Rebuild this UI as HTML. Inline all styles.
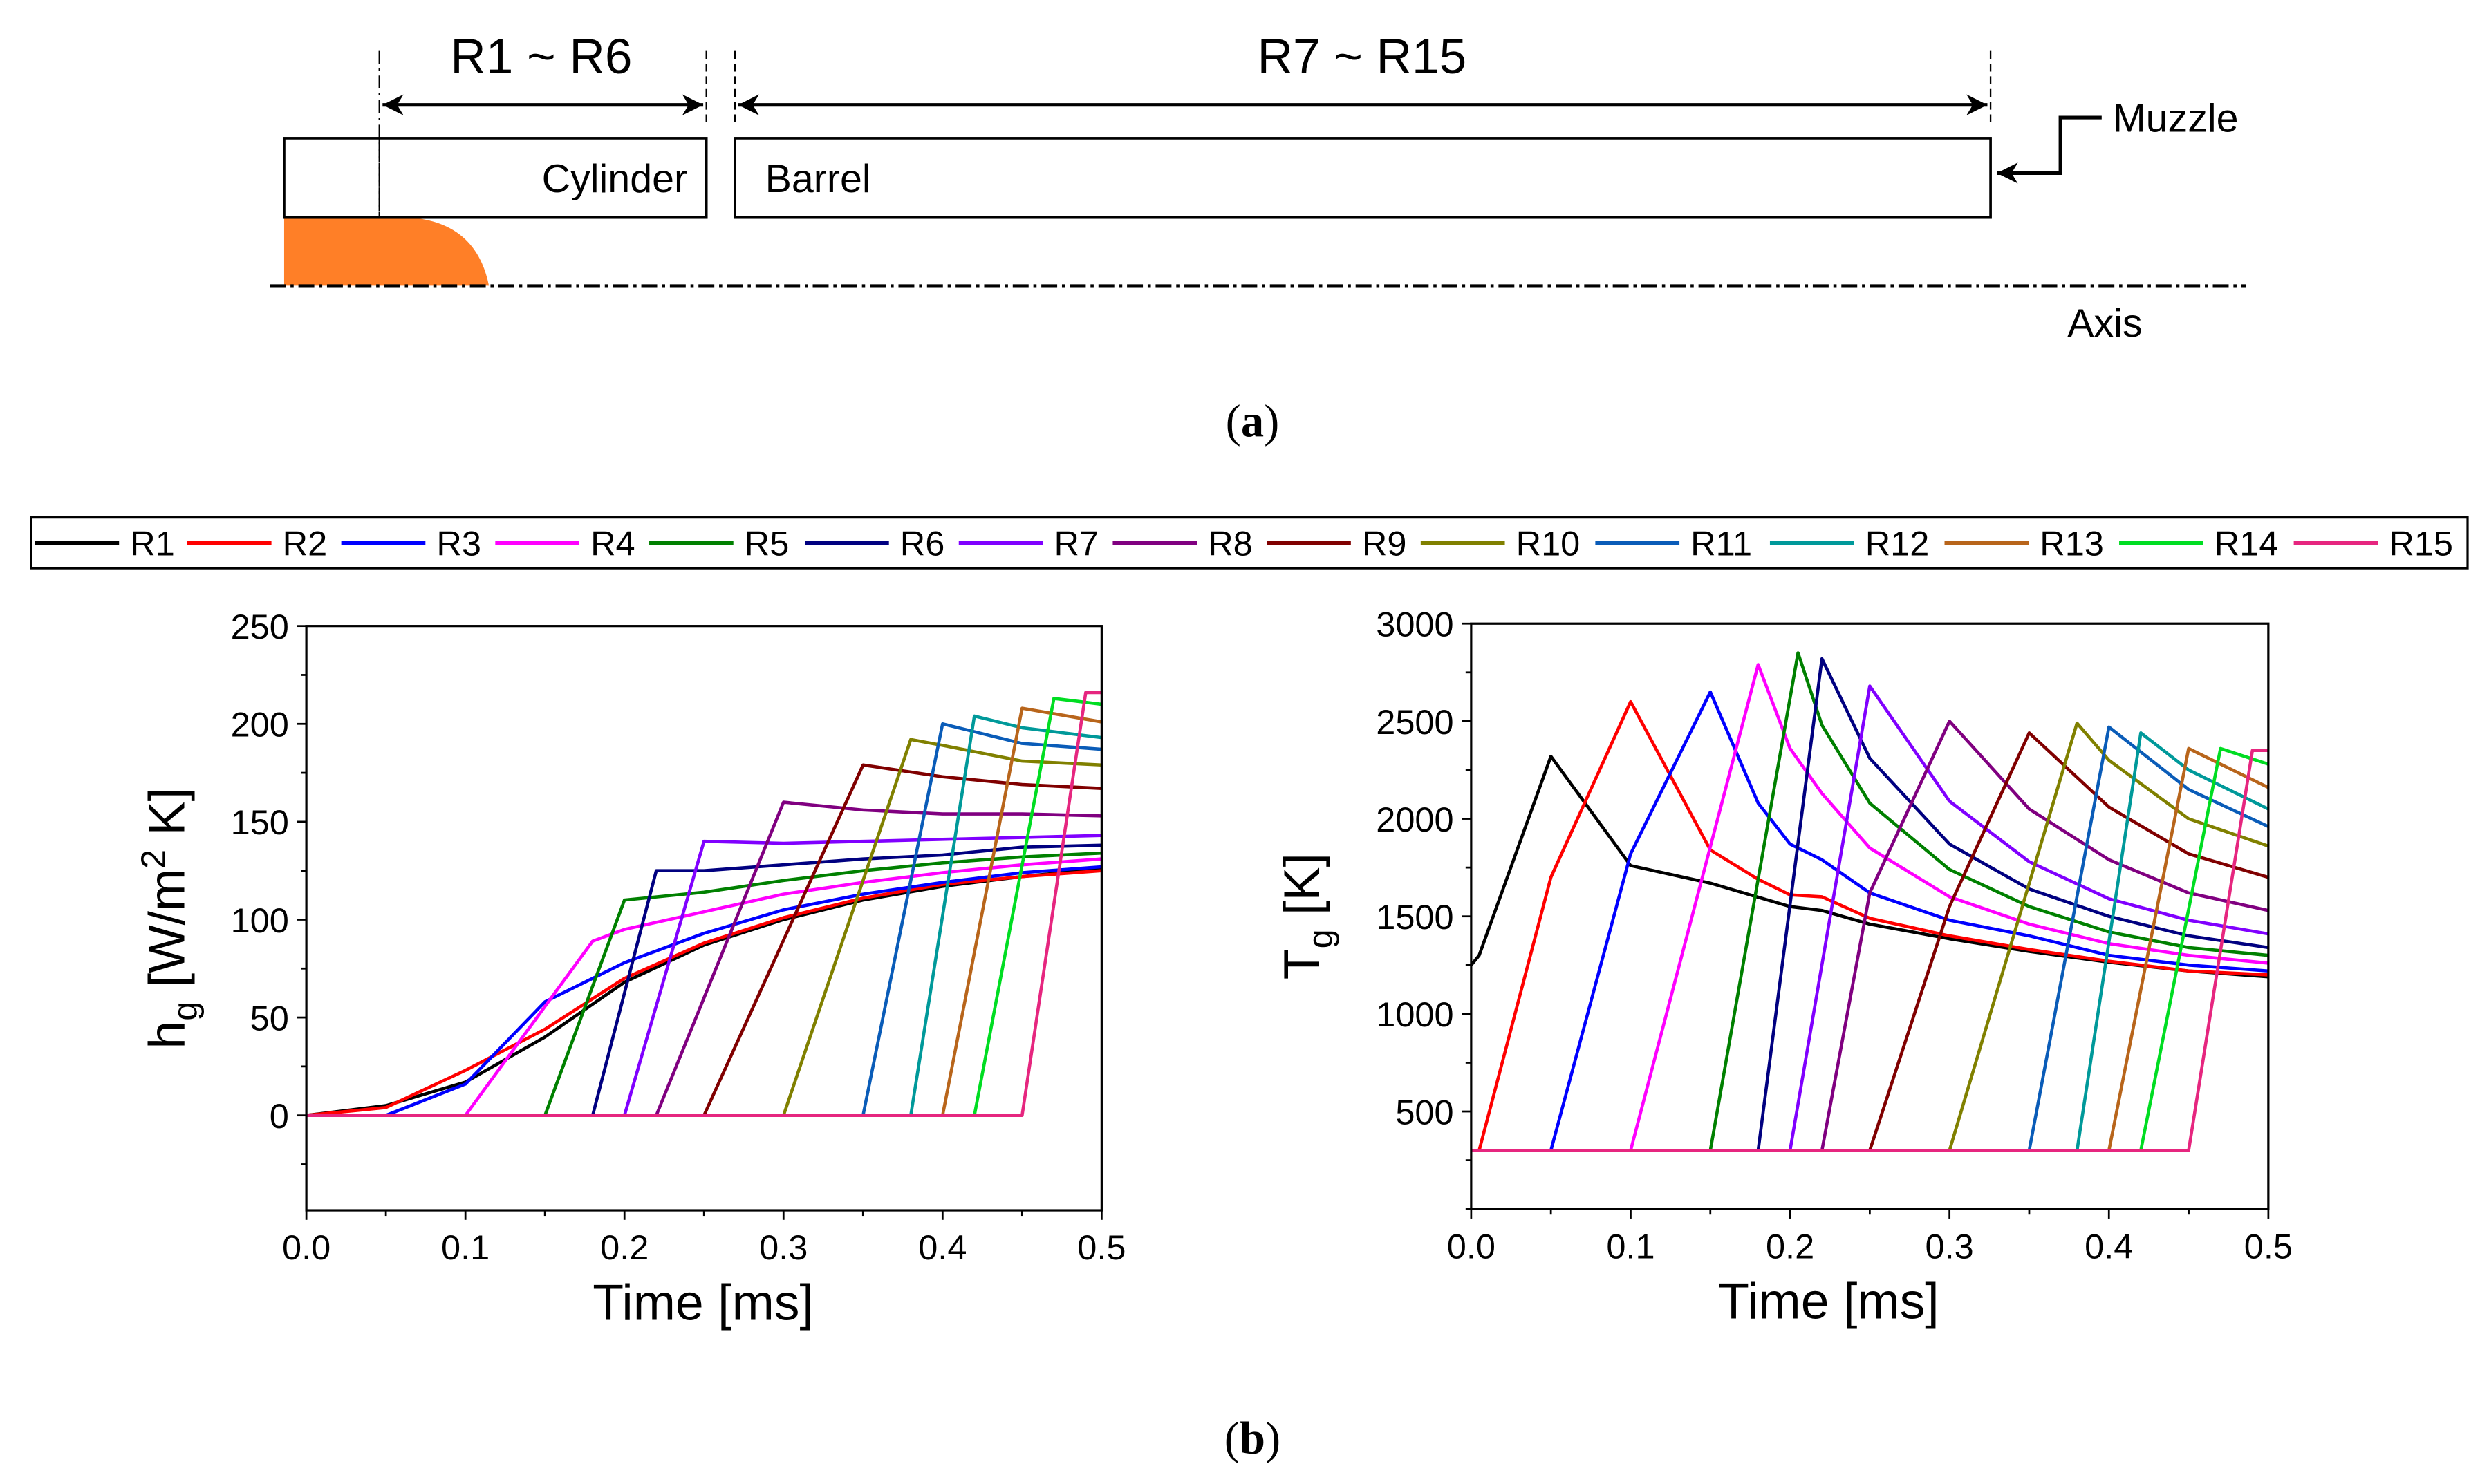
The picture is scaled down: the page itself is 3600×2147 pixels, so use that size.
<!DOCTYPE html>
<html><head><meta charset="utf-8"><style>
html,body{margin:0;padding:0;background:#fff}
svg{display:block}
text{font-family:"Liberation Sans",Arial,sans-serif;fill:#000}
</style></head><body>
<svg id="fig" width="3600" height="2147" viewBox="0 0 1568 935" xmlns="http://www.w3.org/2000/svg">
<defs>
<marker id="ah" viewBox="0 0 10 10" refX="10" refY="5" markerWidth="6" markerHeight="7" orient="auto-start-reverse"><path d="M0,0 L10,5 L0,10 L3,5 z" fill="#000"/></marker>
</defs>
<g>
  <line x1="239" y1="32" x2="239" y2="137" stroke="#000" stroke-width="1" stroke-dasharray="8,3,1.5,3"/>
  <line x1="445" y1="32" x2="445" y2="80" stroke="#000" stroke-width="1" stroke-dasharray="5,3"/>
  <line x1="463" y1="32" x2="463" y2="80" stroke="#000" stroke-width="1" stroke-dasharray="5,3"/>
  <line x1="1254" y1="32" x2="1254" y2="80" stroke="#000" stroke-width="1" stroke-dasharray="5,3"/>
  <line x1="241" y1="66" x2="443" y2="66" stroke="#000" stroke-width="2.2" marker-start="url(#ah)" marker-end="url(#ah)"/>
  <line x1="465" y1="66" x2="1252" y2="66" stroke="#000" stroke-width="2.2" marker-start="url(#ah)" marker-end="url(#ah)"/>
  <text x="341" y="46" font-size="31" text-anchor="middle">R1 ~ R6</text>
  <text x="858" y="46" font-size="31" text-anchor="middle">R7 ~ R15</text>
  <path d="M179,137 L258,137 Q300,140 308,180 L179,180 z" fill="#ff7f27"/>
  <rect x="179" y="87" width="266" height="50" fill="none" stroke="#000" stroke-width="1.6"/>
  <text x="433" y="121" font-size="25" text-anchor="end">Cylinder</text>
  <rect x="463" y="87" width="791" height="50" fill="none" stroke="#000" stroke-width="1.6"/>
  <text x="482" y="121" font-size="25">Barrel</text>
  <line x1="239" y1="87" x2="239" y2="137" stroke="#000" stroke-width="1" stroke-dasharray="8,3,1.5,3"/>
  <line x1="170" y1="180" x2="1415" y2="180" stroke="#000" stroke-width="1.8" stroke-dasharray="10,3,2,3"/>
  <text x="1326" y="212" font-size="25" text-anchor="middle">Axis</text>
  <polyline points="1324,74 1298,74 1298,109 1258,109" fill="none" stroke="#000" stroke-width="2.2" marker-end="url(#ah)"/>
  <text x="1331" y="83" font-size="25">Muzzle</text>
  <text x="789" y="275" font-size="29" text-anchor="middle" style="font-family:'Liberation Serif',serif">(<tspan font-weight="bold">a</tspan>)</text>
</g>
<g id="legend">
  <rect x="19.5" y="326" width="1535" height="32" fill="#fff" stroke="#000" stroke-width="1.4"/>
</g>
<g id="plotL"></g>
<g id="plotR"></g>
<text x="789" y="916" font-size="29" text-anchor="middle" style="font-family:'Liberation Serif',serif">(<tspan font-weight="bold">b</tspan>)</text>
</svg>
<script>
const seriesNames = ["R1","R2","R3","R4","R5","R6","R7","R8","R9","R10","R11","R12","R13","R14","R15"];
const seriesColors = ["#000000","#ff0000","#0000ff","#ff00ff","#008000","#000080","#8000ff","#800080","#800000","#808000","#0a5cb8","#00999a","#b8651b","#00dd22","#e6267f"];
const xTicks = [0,0.1,0.2,0.3,0.4,0.5];
const xTickLabels = ["0.0","0.1","0.2","0.3","0.4","0.5"];
const hgTicks = [0,50,100,150,200,250];
const tgTicks = [500,1000,1500,2000,2500,3000];
// h_g series: [time, value]
const hgR1 = [[0,0],[0.05,5],[0.1,17],[0.15,40],[0.2,68],[0.25,87],[0.3,100],[0.35,110],[0.4,117],[0.45,122],[0.5,126]];
const hgR2 = [[0,0],[0.05,4],[0.1,23],[0.15,44],[0.2,70],[0.25,88],[0.3,101],[0.35,111],[0.4,118],[0.45,122],[0.5,125]];
const hgR3 = [[0,0],[0.05,0],[0.1,16],[0.15,58],[0.2,78],[0.25,93],[0.3,105],[0.35,113],[0.4,119],[0.45,124],[0.5,127]];
const hgR4 = [[0,0],[0.1,0],[0.18,89],[0.2,95],[0.25,104],[0.3,113],[0.35,119],[0.4,124],[0.45,128],[0.5,131]];
const hgR5 = [[0,0],[0.15,0],[0.2,110],[0.25,114],[0.3,120],[0.35,125],[0.4,129],[0.45,132],[0.5,134]];
const hgR6 = [[0,0],[0.18,0],[0.22,125],[0.25,125],[0.3,128],[0.35,131],[0.4,133],[0.45,137],[0.5,138]];
const hgR7 = [[0,0],[0.2,0],[0.25,140],[0.3,139],[0.35,140],[0.4,141],[0.45,142],[0.5,143]];
const hgR8 = [[0,0],[0.22,0],[0.3,160],[0.35,156],[0.4,154],[0.45,154],[0.5,153]];
const hgR9 = [[0,0],[0.25,0],[0.35,179],[0.4,173],[0.45,169],[0.5,167]];
const hgR10 = [[0,0],[0.3,0],[0.38,192],[0.4,189],[0.45,181],[0.5,179]];
const hgR11 = [[0,0],[0.35,0],[0.4,200],[0.45,190],[0.5,187]];
const hgR12 = [[0,0],[0.38,0],[0.42,204],[0.45,198],[0.5,193]];
const hgR13 = [[0,0],[0.4,0],[0.45,208],[0.5,201]];
const hgR14 = [[0,0],[0.42,0],[0.47,213],[0.5,210]];
const hgR15 = [[0,0],[0.45,0],[0.49,216],[0.5,216]];
// T_g series
const tgR1 = [[0,1250],[0.005,1300],[0.05,2320],[0.1,1760],[0.15,1670],[0.2,1550],[0.22,1530],[0.25,1460],[0.3,1385],[0.35,1320],[0.4,1265],[0.45,1220],[0.5,1190]];
const tgR2 = [[0,300],[0.005,300],[0.05,1700],[0.1,2600],[0.15,1840],[0.18,1690],[0.2,1610],[0.22,1600],[0.25,1490],[0.3,1400],[0.35,1330],[0.4,1270],[0.45,1220],[0.5,1200]];
const tgR3 = [[0,300],[0.05,300],[0.1,1820],[0.15,2650],[0.18,2080],[0.2,1870],[0.22,1790],[0.25,1620],[0.3,1480],[0.35,1400],[0.4,1300],[0.45,1250],[0.5,1220]];
const tgR4 = [[0,300],[0.1,300],[0.18,2790],[0.2,2360],[0.22,2130],[0.25,1850],[0.3,1600],[0.35,1460],[0.4,1360],[0.45,1300],[0.5,1260]];
const tgR5 = [[0,300],[0.15,300],[0.205,2850],[0.22,2480],[0.25,2080],[0.3,1740],[0.35,1550],[0.4,1420],[0.45,1340],[0.5,1300]];
const tgR6 = [[0,300],[0.18,300],[0.22,2820],[0.25,2310],[0.3,1870],[0.35,1640],[0.4,1500],[0.45,1400],[0.5,1340]];
const tgR7 = [[0,300],[0.2,300],[0.25,2680],[0.3,2090],[0.35,1780],[0.4,1590],[0.45,1480],[0.5,1410]];
const tgR8 = [[0,300],[0.22,300],[0.25,1620],[0.3,2500],[0.35,2050],[0.4,1790],[0.45,1620],[0.5,1530]];
const tgR9 = [[0,300],[0.25,300],[0.3,1550],[0.35,2440],[0.4,2060],[0.45,1820],[0.5,1700]];
const tgR10 = [[0,300],[0.3,300],[0.38,2490],[0.4,2300],[0.45,2000],[0.5,1860]];
const tgR11 = [[0,300],[0.35,300],[0.4,2470],[0.45,2150],[0.5,1960]];
const tgR12 = [[0,300],[0.38,300],[0.42,2440],[0.45,2250],[0.5,2050]];
const tgR13 = [[0,300],[0.4,300],[0.45,2360],[0.5,2160]];
const tgR14 = [[0,300],[0.42,300],[0.47,2360],[0.5,2280]];
const tgR15 = [[0,300],[0.45,300],[0.49,2350],[0.5,2350]];
const hgSeries = [hgR1,hgR2,hgR3,hgR4,hgR5,hgR6,hgR7,hgR8,hgR9,hgR10,hgR11,hgR12,hgR13,hgR14,hgR15];
const tgSeries = [tgR1,tgR2,tgR3,tgR4,tgR5,tgR6,tgR7,tgR8,tgR9,tgR10,tgR11,tgR12,tgR13,tgR14,tgR15];

const NS = "http://www.w3.org/2000/svg";
function mk(parent, tag, attrs, txt){
  const e = document.createElementNS(NS, tag);
  for (const k in attrs) e.setAttribute(k, attrs[k]);
  if (txt !== undefined) e.textContent = txt;
  parent.appendChild(e); return e;
}

function drawPlot(g, box, yMin, yMax, yTicks, yMinorStep, series, yTitleParts, yTitleX, xTitleX){
  const sx = v => box.x0 + (v - 0) / 0.5 * (box.x1 - box.x0);
  const sy = v => box.y1 - (v - yMin) / (yMax - yMin) * (box.y1 - box.y0);
  const clip = "clip" + g.id;
  const cp = mk(g, "clipPath", {id: clip});
  mk(cp, "rect", {x: box.x0, y: box.y0 - 2, width: box.x1 - box.x0 + 2, height: box.y1 - box.y0 + 2});
  const lines = mk(g, "g", {"clip-path": "url(#" + clip + ")"});
  series.forEach((s, i) => {
    const p = mk(lines, "polyline", {points: s.map(d => sx(d[0]).toFixed(2) + "," + sy(d[1]).toFixed(2)).join(" "), fill: "none", stroke: seriesColors[i], "stroke-width": 2, "stroke-linejoin": "round"});
    
    
  });
  const frame = mk(g, "rect", {x: box.x0, y: box.y0, width: box.x1 - box.x0, height: box.y1 - box.y0, fill: "none", stroke: "#000", "stroke-width": 1.4});
  
  
  for (let t = 0; t <= 0.5001; t += 0.05) {
    const major = Math.abs(t * 10 - Math.round(t * 10)) < 1e-6;
    mk(g, "line", {x1: sx(t), x2: sx(t), y1: box.y1, y2: box.y1 + (major ? 6 : 3.5), stroke: "#000", "stroke-width": 1.2});
  }
  xTicks.forEach((t, i) => {
    const tl = mk(g, "text", {x: sx(t), y: box.y1 + 31, "font-size": 22, "text-anchor": "middle"}, xTickLabels[i]);
    
    
  });
  for (let v = yMax; v >= yMin - 1e-6; v -= yMinorStep) {
    const major = yTicks.includes(Math.round(v));
    mk(g, "line", {x1: box.x0, x2: box.x0 - (major ? 6 : 3.5), y1: sy(v), y2: sy(v), stroke: "#000", "stroke-width": 1.2});
  }
  yTicks.forEach(v => {
    const tl = mk(g, "text", {x: box.x0 - 11, y: sy(v) + 8, "font-size": 22, "text-anchor": "end"}, String(v));
    
    
  });
  const xt = mk(g, "text", {x: xTitleX, y: box.y1 + 69, "font-size": 32, "text-anchor": "middle"}, "Time [ms]");
  
  
  const cy = (box.y0 + box.y1) / 2;
  const yt = mk(g, "text", {x: 0, y: 0, "font-size": 32, "text-anchor": "middle", transform: "translate(" + yTitleX + "," + cy + ") rotate(-90)"});
  
  
  yTitleParts(yt);
}

drawPlot(document.getElementById("plotL"), {x0: 193, x1: 694, y0: 394.4, y1: 762.6}, -48.5, 250, hgTicks, 25, hgSeries, el => {
  el.appendChild(document.createTextNode("h"));
  mk(el, "tspan", {dy: 8, "font-size": 22}, "g");
  mk(el, "tspan", {dy: -8}, " [W/m");
  mk(el, "tspan", {dy: -12, "font-size": 22}, "2");
  mk(el, "tspan", {dy: 12}, " K]");
}, 116, 443);
drawPlot(document.getElementById("plotR"), {x0: 926.8, x1: 1429, y0: 392.9, y1: 761.8}, 0, 3000, tgTicks, 250, tgSeries, el => {
  el.appendChild(document.createTextNode("T"));
  mk(el, "tspan", {dy: 8, "font-size": 22}, "g");
  mk(el, "tspan", {dy: -8}, " [K]");
}, 831, 1152);

const legend = document.getElementById("legend");
const legendTextX = [82,178,275,372,469,567,664,761,858,955,1065,1175,1285,1395,1505];
seriesNames.forEach((n, i) => {
  const g = mk(legend, "g", {});
  
  
  const tx = legendTextX[i];
  mk(g, "line", {x1: tx - 60, x2: tx - 7, y1: 342, y2: 342, stroke: seriesColors[i], "stroke-width": 2.4});
  mk(g, "text", {x: tx, y: 350, "font-size": 22}, n);
});
</script>
</body></html>
